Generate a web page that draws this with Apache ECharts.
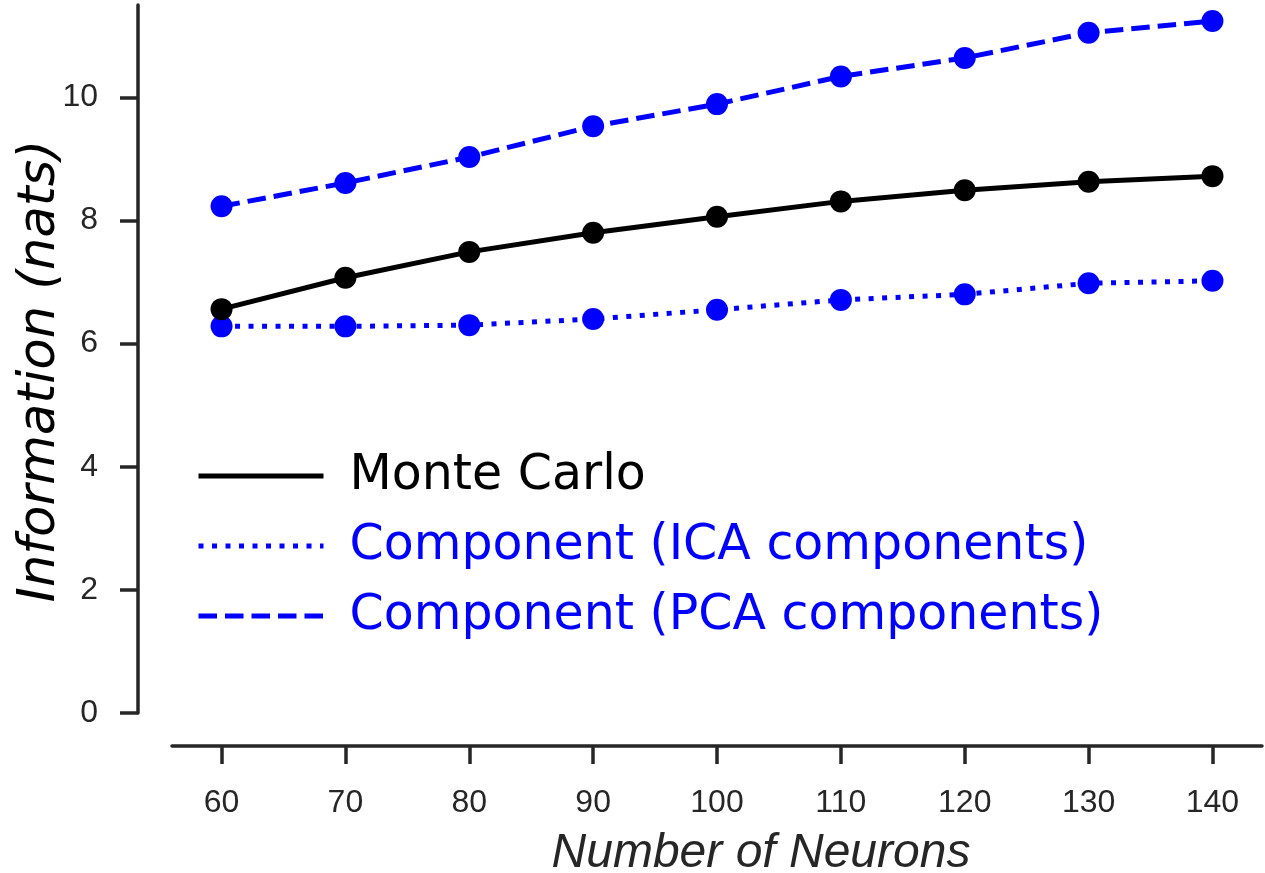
<!DOCTYPE html>
<html>
<head>
<meta charset="utf-8">
<script src="https://cdn.jsdelivr.net/npm/echarts@6/dist/echarts.min.js"></script>
<style>html,body{margin:0;padding:0;background:#fff}#c{width:1265px;height:873px}</style>
</head>
<body>
<div id="c"></div>
<script>
const neurons = [60, 70, 80, 90, 100, 110, 120, 130, 140];
const monteCarlo = [6.56, 7.07, 7.49, 7.80, 8.06, 8.31, 8.49, 8.63, 8.72];
const icaComp = [6.28, 6.28, 6.30, 6.40, 6.55, 6.71, 6.80, 6.98, 7.02];
const pcaComp = [8.23, 8.61, 9.03, 9.53, 9.89, 10.34, 10.64, 11.05, 11.24];
const xTicks = [60, 70, 80, 90, 100, 110, 120, 130, 140];
const yTicks = [0, 2, 4, 6, 8, 10];
const names = ['Monte Carlo', 'Component (ICA components)', 'Component (PCA components)'];

const pairs = arr => neurons.map((n, i) => [n, arr[i]]);
const axisColor = '#262626';
const lw = 5;

const chart = echarts.init(document.getElementById('c'), null, {renderer: 'canvas'});
chart.setOption({
  animation: false,
  backgroundColor: '#ffffff',
  grid: {left: 172, right: 3, top: 5, bottom: 160, containLabel: false, outerBoundsMode: 'none'},
  xAxis: {
    type: 'value', min: 56, max: 144, offset: 33,
    name: 'Number of Neurons', nameLocation: 'middle', nameGap: 84, nameMoveOverlap: false,
    nameTextStyle: {fontFamily: 'Liberation Sans', fontStyle: 'italic', fontSize: 48, color: axisColor, padding: [0, 0, 0, 88]},
    axisLine: {show: true, onZero: false, lineStyle: {color: axisColor, width: 3.5}},
    axisTick: {show: true, length: 18, lineStyle: {color: axisColor, width: 3.5}, customValues: xTicks},
    axisLabel: {fontFamily: 'Liberation Sans', fontSize: 32, color: axisColor, margin: 41, customValues: xTicks},
    splitLine: {show: false}
  },
  yAxis: {
    type: 'value', min: 0, max: 11.5, offset: 34,
    name: 'Information (nats)', nameLocation: 'middle', nameGap: 72, nameMoveOverlap: false,
    nameTextStyle: {fontFamily: 'DejaVu Sans', fontStyle: 'italic', fontSize: 51, color: '#000', padding: [0, 24, 0, 0]},
    axisLine: {show: true, onZero: false, lineStyle: {color: axisColor, width: 3.5}},
    axisTick: {show: true, length: 18, lineStyle: {color: axisColor, width: 3.5}, customValues: yTicks},
    axisLabel: {fontFamily: 'Liberation Sans', fontSize: 32, color: axisColor, margin: 40, customValues: yTicks},
    splitLine: {show: false}
  },
  legend: {
    orient: 'vertical', left: 196, top: 448, padding: 0,
    itemWidth: 125, itemHeight: 20, itemGap: 14,
    itemStyle: {opacity: 0},
    lineStyle: {width: lw},
    textStyle: {fontFamily: 'DejaVu Sans', fontSize: 49, lineHeight: 56, padding: [0, 0, 0, 21]},
    data: [
      {name: names[0], textStyle: {color: '#000000'}},
      {name: names[1], textStyle: {color: '#0000ff'}},
      {name: names[2], textStyle: {color: '#0000ff'}}
    ]
  },
  series: [
    {name: names[0], type: 'line', data: pairs(monteCarlo), symbol: 'circle', symbolSize: 22,
     lineStyle: {color: '#000000', width: lw, type: 'solid'}, itemStyle: {color: '#000000'}, z: 3},
    {name: names[1], type: 'line', data: pairs(icaComp), symbol: 'circle', symbolSize: 22,
     lineStyle: {color: '#0000ff', width: lw, type: [5, 8.5], cap: 'butt'}, itemStyle: {color: '#0000ff'}, z: 2},
    {name: names[2], type: 'line', data: pairs(pcaComp), symbol: 'circle', symbolSize: 22,
     lineStyle: {color: '#0000ff', width: lw, type: [18.5, 8], cap: 'butt'}, itemStyle: {color: '#0000ff'}, z: 2}
  ]
});
</script>
</body>
</html>
